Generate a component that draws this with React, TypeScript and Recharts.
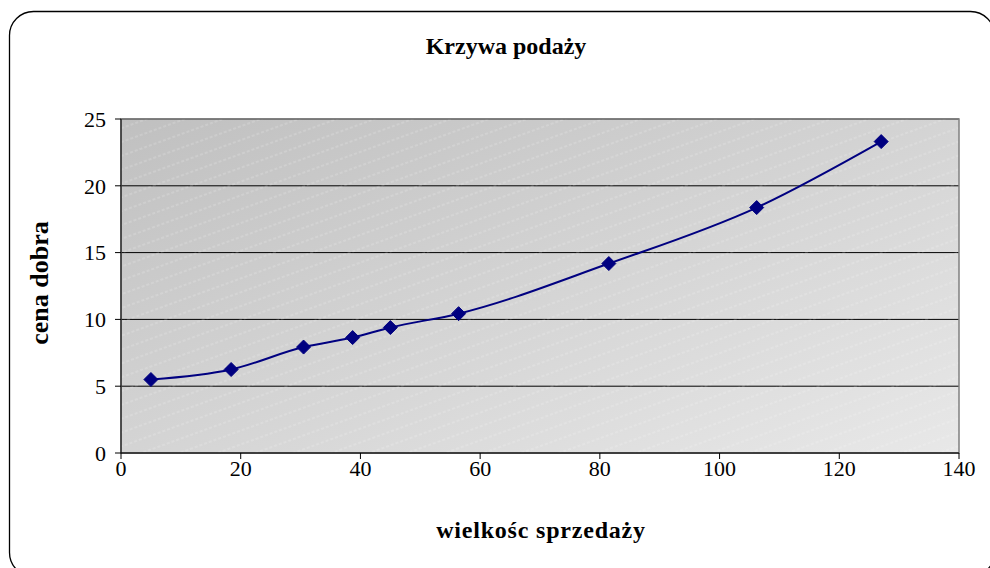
import React from 'react';
import {
  LineChart,
  Line,
  XAxis,
  YAxis,
  CartesianGrid,
  ReferenceArea,
  Customized,
} from 'recharts';

// values
const quantities = [5, 18.4, 30.5, 38.7, 45, 56.4, 81.5, 106.2, 127];
const prices = [5.5, 6.25, 7.93, 8.64, 9.39, 10.43, 14.18, 18.37, 23.31];
const xTicks = [0, 20, 40, 60, 80, 100, 120, 140];
const yTicks = [0, 5, 10, 15, 20, 25];

const chartData = quantities.map((q, i) => ({ q, price: prices[i] }));

const font = '"Liberation Serif", "Times New Roman", serif';
const navy = '#000080';

const Diamond = (props: any) => {
  const { cx, cy } = props;
  if (cx == null || cy == null) return null;
  const r = 7;
  return (
    <polygon
      points={`${cx},${cy - r} ${cx + r},${cy} ${cx},${cy + r} ${cx - r},${cy}`}
      fill={navy}
      stroke={navy}
      strokeWidth={1}
    />
  );
};

const Labels = () => (
  <g fontFamily={font} fontWeight="bold" fill="#000">
    <rect x={9.5} y={11.5} width={985} height={565} rx={24} fill="none" stroke="#000" strokeWidth={1.3} />
    <text x={506} y={54} textAnchor="middle" fontSize={24}>
      Krzywa podaży
    </text>
    <text x={541} y={538} textAnchor="middle" fontSize={24} letterSpacing={0.8}>
      wielkośc sprzedaży
    </text>
    <text
      x={48}
      y={283}
      textAnchor="middle"
      fontSize={26}
      transform="rotate(-90 48 283)"
    >
      cena dobra
    </text>
  </g>
);

export default function App() {
  const tickStyle = { fill: '#000', fontSize: 22, fontFamily: font };
  return (
    <div style={{ position: 'absolute', left: 0, top: 0, width: 990, height: 568, overflow: 'hidden', background: '#fff' }}>
      <LineChart
        width={990}
        height={568}
        data={chartData}
        margin={{ top: 119, right: 31, left: 0, bottom: 85 }}
      >
        <defs>
          <linearGradient id="plotBg" x1="0" y1="0" x2="1" y2="1">
            <stop offset="0%" stopColor="#c0c0c0" />
            <stop offset="100%" stopColor="#e8e8e8" />
          </linearGradient>
          <pattern
            id="hatch"
            width="40"
            height="13"
            patternUnits="userSpaceOnUse"
            patternTransform="rotate(-20)"
          >
            <line x1="0" y1="6" x2="40" y2="6" stroke="#ffffff" strokeOpacity={0.3} strokeWidth={1} strokeDasharray="3 2" />
          </pattern>
        </defs>
        <CartesianGrid fill="url(#plotBg)" stroke="#000" vertical={false} strokeWidth={1} />
        <ReferenceArea
          x1={0}
          x2={140}
          y1={0}
          y2={25}
          fill="url(#hatch)"
          fillOpacity={1}
          stroke="#808080"
          strokeWidth={1.5}
        />
        <XAxis
          dataKey="q"
          type="number"
          domain={[0, 140]}
          ticks={xTicks}
          height={30}
          stroke="#000"
          tickSize={6}
          tickMargin={1}
          tick={tickStyle}
          tickLine={{ stroke: '#000' }}
          interval={0}
        />
        <YAxis
          type="number"
          domain={[0, 25]}
          ticks={yTicks}
          width={121}
          stroke="#000"
          tickSize={6}
          tickMargin={9}
          tick={tickStyle}
          tickLine={{ stroke: '#000' }}
          interval={0}
        />
        <Line
          type="monotone"
          dataKey="price"
          stroke={navy}
          strokeWidth={2}
          dot={<Diamond />}
          activeDot={false}
          isAnimationActive={false}
        />
        <Customized component={Labels} />
      </LineChart>
    </div>
  );
}
